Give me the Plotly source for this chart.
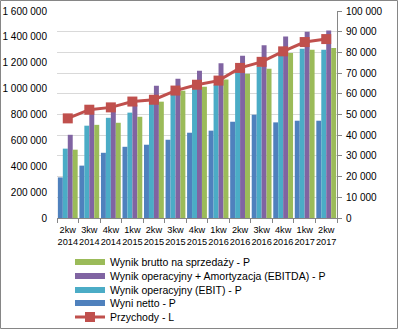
import plotly.graph_objects as go

categories = ["2kw<br>2014", "3kw<br>2014", "4kw<br>2014", "1kw<br>2015", "2kw<br>2015",
              "3kw<br>2015", "4kw<br>2015", "1kw<br>2016", "2kw<br>2016", "3kw<br>2016",
              "4kw<br>2016", "1kw<br>2017", "2kw<br>2017"]

wynik_netto = [19600, 25300, 31500, 34400, 35400, 37800, 41200, 42200, 46500, 49900, 46200, 47000, 47000]
ebit = [33500, 44600, 48400, 50900, 55500, 60000, 62300, 64200, 70500, 73200, 79700, 81800, 81300]
ebitda = [40200, 52300, 53500, 54700, 63900, 67300, 71100, 74700, 78400, 83400, 87700, 90000, 90600]
brutto = [33000, 45000, 46000, 48900, 56200, 61500, 63400, 66900, 69700, 72100, 79700, 81300, 82100]
przychody = [770000, 837000, 855000, 900000, 914000, 985000, 1030000, 1062000, 1160000, 1207000,
             1288000, 1360000, 1383000]

names = ["Wyni netto - P", "Wynik operacyjny (EBIT) - P",
         "Wynik operacyjny + Amortyzacja (EBITDA) - P", "Wynik brutto na sprzedaży - P"]
colors = ["#4F81BD", "#4BACC6", "#8064A2", "#9BBB59"]
series = [wynik_netto, ebit, ebitda, brutto]
legend_ids = ["legend4", "legend3", "legend2", "legend"]

FONT = "Liberation Sans, Arial, sans-serif"
W, H = 398, 330
ML, MR, MT, MB = 57, 61, 11, 112
PW, PH = W - ML - MR, H - MT - MB

fig = go.Figure()
for nm, col, vals in zip(names, colors, series):
    fig.add_trace(go.Bar(x=categories, y=vals, name=nm, marker=dict(color=col, line=dict(width=0)),
                         yaxis="y", showlegend=False))

# legend-only swatches (wide rectangles like the original)
for nm, col, lg in zip(names, colors, legend_ids):
    fig.add_trace(go.Scatter(x=categories[:1], y=[None], mode="lines", name=nm,
                             line=dict(color=col, width=6), legend=lg, yaxis="y",
                             hoverinfo="skip"))

fig.add_trace(go.Scatter(x=categories, y=przychody, name="Przychody - L", mode="lines+markers",
                         line=dict(color="#C0504D", width=3),
                         marker=dict(symbol="square", size=10, color="#C0504D"),
                         yaxis="y2", legend="legend5"))

legend_centers = [262, 276, 290, 303, 317]
legend_x = 70
leg_common = dict(xanchor="left", yanchor="middle",
                  bgcolor="rgba(0,0,0,0)", borderwidth=0,
                  font=dict(family=FONT, size=10.5, color="#000000"))
layout_legends = {}
for i, lg in enumerate(["legend", "legend2", "legend3", "legend4", "legend5"]):
    layout_legends[lg] = dict(x=(legend_x - ML) / PW, y=(MT + PH - legend_centers[i]) / PH, **leg_common)

fig.update_layout(
    width=W, height=H,
    margin=dict(l=ML, r=MR, t=MT, b=MB, autoexpand=False),
    paper_bgcolor="white", plot_bgcolor="white",
    separators=", ",
    font=dict(family=FONT, size=10, color="#000000"),
    barmode="group", bargap=0.08, bargroupgap=0,
    xaxis=dict(type="category", categoryorder="array", categoryarray=categories,
               range=[-0.5, len(categories) - 0.5],
               showline=True, linecolor="#868686", linewidth=1,
               ticks="outside", ticklen=4, tickcolor="#868686", tickson="boundaries",
               ticklabelstandoff=3,
               tickfont=dict(family=FONT, size=9.2, color="#000000"), tickangle=0,
               showgrid=False),
    yaxis=dict(side="right", range=[0, 100000], dtick=10000, tickformat=",d",
               showgrid=True, gridcolor="#D9D9D9", gridwidth=1,
               showline=True, linecolor="#868686", linewidth=1,
               ticks="outside", ticklen=4, tickcolor="#868686", ticklabelstandoff=2,
               tickfont=dict(family=FONT, size=10, color="#000000"), zeroline=False),
    yaxis2=dict(side="left", overlaying="y", range=[0, 1600000], dtick=200000, tickformat=",d",
                showgrid=False, showline=False, ticks="", ticklabelstandoff=9,
                tickfont=dict(family=FONT, size=10, color="#000000"), zeroline=False),
    shapes=[dict(type="rect", xref="paper", yref="paper",
                 x0=(0.5 - ML) / PW, x1=(W - 0.5 - ML) / PW,
                 y0=(MT + PH - 328.5) / PH, y1=(MT + PH - 0.5) / PH,
                 line=dict(color="#868686", width=1), fillcolor="rgba(0,0,0,0)", layer="above")],
    **layout_legends,
)

fig.write_html("out.html")
